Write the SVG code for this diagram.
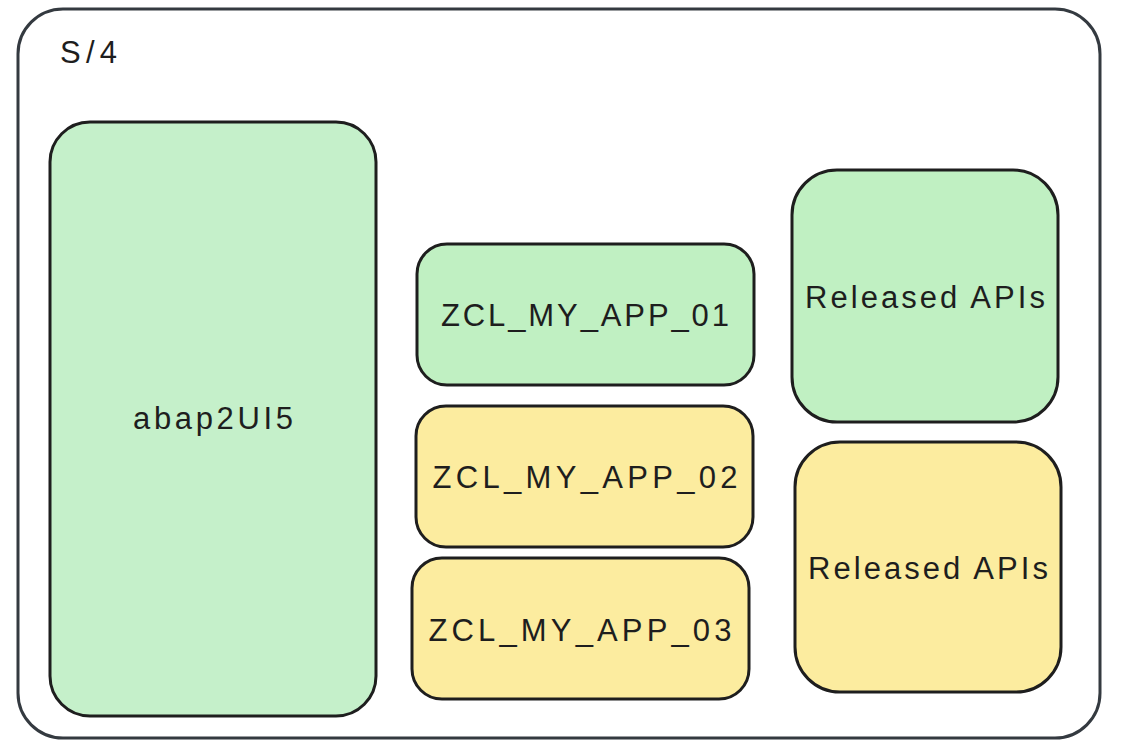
<svg xmlns="http://www.w3.org/2000/svg" width="1126" height="754" viewBox="0 0 1126 754">
<style>
.box{stroke:#1e1e1e;stroke-width:3}
.green{fill:#c0f0c2}
.yellow{fill:#fcec9f}
.lbl{font-family:"Liberation Sans",Arial,sans-serif;font-size:31px;fill:#1e1e1e;text-anchor:middle;dominant-baseline:central}
</style>
<rect width="1126" height="754" fill="#ffffff"/>
<g id="s4">
<rect x="18" y="9" width="1082" height="729" rx="45" fill="#ffffff" stroke="#343a40" stroke-width="3"/>
<text x="60" y="52" class="lbl" style="text-anchor:start" textLength="57" lengthAdjust="spacing">S/4</text>
</g>
<g id="abap2ui5">
<rect class="box" x="50" y="122" width="326" height="594" rx="40" fill="#c5f0ca"/>
<text class="lbl" x="213" y="418" textLength="160" lengthAdjust="spacing">abap2UI5</text>
</g>
<g id="app01">
<rect class="box green" x="417" y="244" width="337" height="141" rx="30"/>
<text class="lbl" x="585" y="315" textLength="288" lengthAdjust="spacing">ZCL_MY_APP_01</text>
</g>
<g id="app02">
<rect class="box yellow" x="416" y="406" width="337" height="141" rx="30"/>
<text class="lbl" x="585" y="477" textLength="305" lengthAdjust="spacing">ZCL_MY_APP_02</text>
</g>
<g id="app03">
<rect class="box yellow" x="412" y="558" width="337" height="141" rx="30"/>
<text class="lbl" x="580" y="630" textLength="303" lengthAdjust="spacing">ZCL_MY_APP_03</text>
</g>
<g id="api1">
<rect class="box green" x="792" y="170" width="266" height="252" rx="45"/>
<text class="lbl" x="925" y="297" textLength="240" lengthAdjust="spacing">Released APIs</text>
</g>
<g id="api2">
<rect class="box yellow" x="795" y="442" width="266" height="250" rx="45"/>
<text class="lbl" x="928" y="568" textLength="240" lengthAdjust="spacing">Released APIs</text>
</g>
<g id="connectors"></g>
</svg>
